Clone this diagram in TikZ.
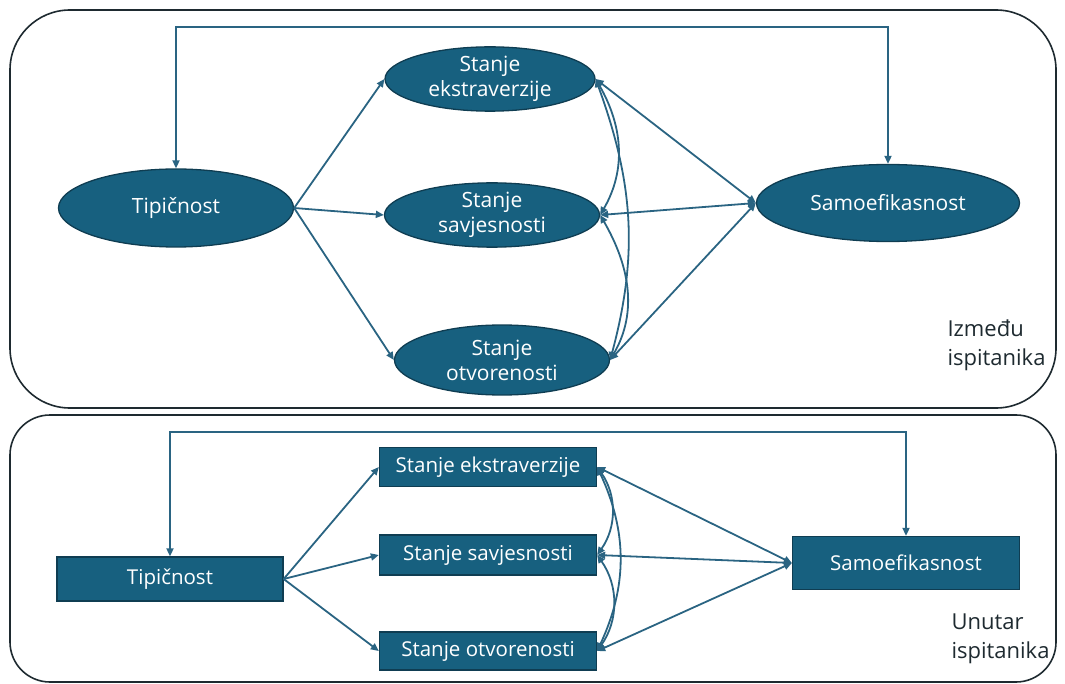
\documentclass[tikz,border=0pt]{standalone}
\usepackage{fontspec}
\setmainfont{Open Sans}
\usetikzlibrary{shapes.geometric,arrows.meta}
\definecolor{nodeblue}{HTML}{17607F}
\definecolor{nodeedge}{HTML}{0F3D52}
\definecolor{linkblue}{HTML}{2A6482}
\definecolor{framegray}{HTML}{1E2A30}
\tikzset{
  frame/.style={draw=framegray, line width=1.6pt},
  oval/.style={ellipse, fill=nodeblue, draw=nodeedge, line width=1.3pt,
    text=white, align=center, inner sep=0pt,
    font=\fontsize{21}{25}\selectfont},
  box/.style={rectangle, fill=nodeblue, draw=nodeedge, line width=1.3pt,
    text=white, align=center, inner sep=0pt,
    font=\fontsize{20.5}{24}\selectfont},
  link/.style={draw=linkblue, line width=1.8pt,
    -{Triangle[length=8pt,width=7pt]}},
  both/.style={link, {Triangle[length=8pt,width=7pt]}-{Triangle[length=8pt,width=7pt]}},
  caption/.style={align=left, anchor=north west, text=framegray,
    font=\fontsize{22}{29}\selectfont}
}

\begin{document}
\begin{tikzpicture}[x=1pt,y=1pt]
  \useasboundingbox (0,0) rectangle (1065,-684);

  % Frames
  \draw[frame, rounded corners=60pt] (10,-10) rectangle (1056,-408);
  \draw[frame, rounded corners=40pt] (10,-415) rectangle (1056,-682);

  % Between-person model
  \node[oval, minimum width=235pt, minimum height=78pt] (tipA) at (176,-208) {Tipičnost};
  \node[oval, minimum width=210pt, minimum height=58pt] (extA) at (490,-79) {Stanje\\ekstraverzije};
  \node[oval, minimum width=215pt, minimum height=60pt] (savA) at (492,-215) {Stanje\\savjesnosti};
  \node[oval, minimum width=215pt, minimum height=70pt] (otvA) at (502,-360) {Stanje\\otvorenosti};
  \node[oval, minimum width=263pt, minimum height=77pt] (samA) at (888,-203) {Samoefikasnost};
  \coordinate (topA) at (500,-27);

  \draw[both] (tipA.north) |- (topA) -| (samA.north);
  \foreach \s in {extA,savA,otvA}{
    \draw[link] (tipA.east) -- (\s.west);
    \draw[both] (\s.east) -- (samA.west);
  }
  \draw[both] (extA.east) to[out=-60,in=60] (savA.east);
  \draw[both] (savA.east) to[out=-60,in=60] (otvA.east);
  \draw[both] (extA.east) to[out=-70,in=75] (otvA.east);

  \node[caption] (capA) at (944,-316) {Između\\ispitanika};

  % Within-person model
  \node[box, minimum width=226pt, minimum height=44pt] (tipB) at (170,-579) {Tipičnost};
  \node[box, minimum width=217pt, minimum height=39pt] (extB) at (488,-467) {Stanje ekstraverzije};
  \node[box, minimum width=217pt, minimum height=40pt] (savB) at (488,-555) {Stanje savjesnosti};
  \node[box, minimum width=217pt, minimum height=38pt] (otvB) at (488,-651) {Stanje otvorenosti};
  \node[box, minimum width=227pt, minimum height=53pt] (samB) at (906,-563) {Samoefikasnost};
  \coordinate (topB) at (500,-432);

  \draw[both] (tipB.north) |- (topB) -| (samB.north);
  \foreach \s in {extB,savB,otvB}{
    \draw[link] (tipB.east) -- (\s.west);
    \draw[both] (\s.east) -- (samB.west);
  }
  \draw[both] (extB.east) to[out=-55,in=55] (savB.east);
  \draw[both] (savB.east) to[out=-55,in=55] (otvB.east);
  \draw[both] (extB.east) to[out=-65,in=65] (otvB.east);

  \node[caption] (capB) at (948,-610) {Unutar\\ispitanika};
\end{tikzpicture}
\end{document}
